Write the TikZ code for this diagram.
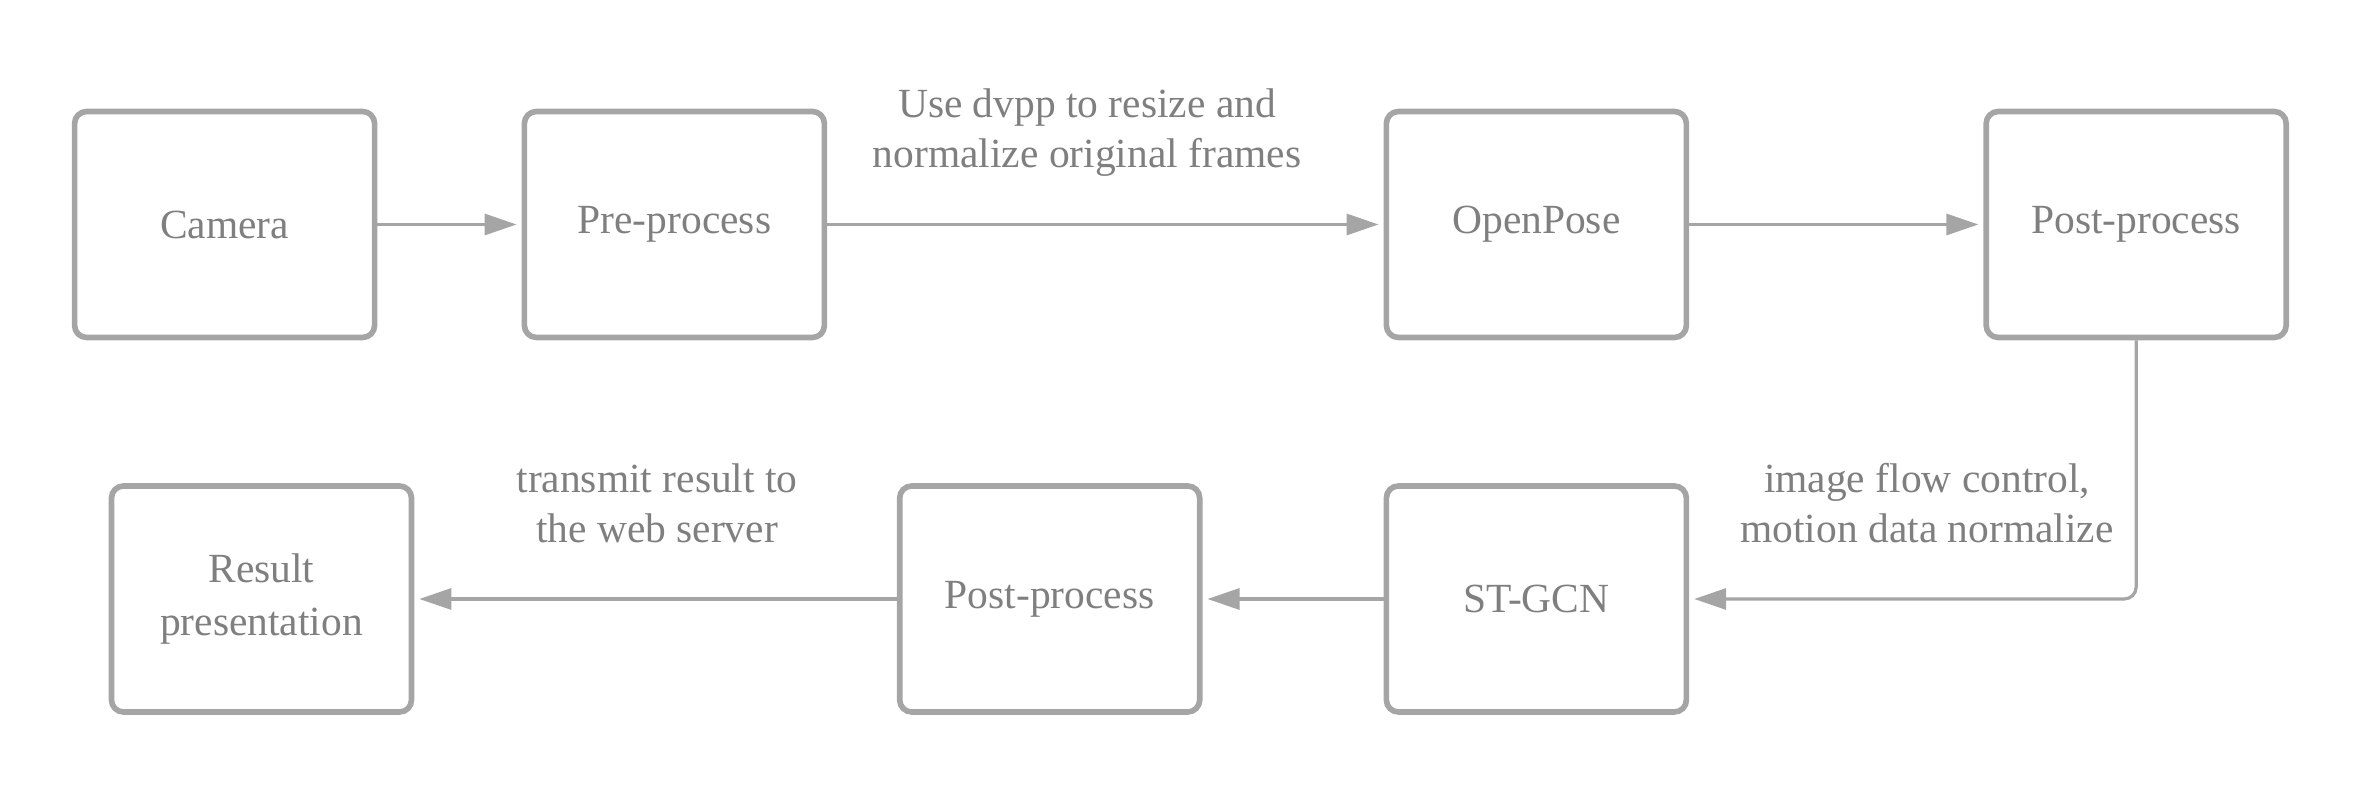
\documentclass[tikz,border=0pt]{standalone}
\usepackage{fontspec}
\setmainfont{Liberation Serif}
\usetikzlibrary{arrows.meta}
\definecolor{linegray}{HTML}{A5A5A5}
\definecolor{textgray}{HTML}{7F7F7F}
\tikzset{
  stepbox/.style={draw=linegray, line width=1.6pt, rounded corners=0.12cm,
    minimum width=3.0cm, minimum height=2.26cm, text=textgray,
    align=center, font=\fontsize{11.8}{15}\selectfont},
  note/.style={text=textgray, align=center, font=\fontsize{11.8}{14.2}\selectfont},
  flow/.style={draw=linegray, line width=0.9pt,
    -{Triangle[length=0.32cm,width=0.21cm]}, shorten >=0.05cm}
}
\begin{document}
\begin{tikzpicture}
\useasboundingbox (0,0) rectangle (23.63,7.88);

\node[stepbox] (camera) at (2.246,5.635) {Camera};
\node[stepbox] (pre) at (6.744,5.635) {Pre-process};
\node[stepbox] (openpose) at (15.364,5.635) {OpenPose};
\node[stepbox] (post1) at (21.362,5.635) {Post-process};

\node[stepbox] (result) at (2.615,1.89) {Result\\presentation};
\node[stepbox] (post2) at (10.497,1.89) {Post-process};
\node[stepbox] (stgcn) at (15.364,1.89) {ST-GCN};

\node[note] (resize) at (10.87,6.55) {Use dvpp to resize and\\normalize original frames};
\node[note] (transmit) at (6.57,2.85) {transmit result to\\the web server};
\node[note] (flowctl) at (19.27,2.85) {image flow control,\\motion data normalize};

\draw[flow] (camera) -- (pre);
\draw[flow] (pre) -- (openpose);
\draw[flow] (openpose) -- (post1);
\draw[flow, rounded corners=0.12cm] (post1.south) |- (stgcn.east);
\draw[flow] (stgcn) -- (post2);
\draw[flow] (post2) -- (result);
\end{tikzpicture}
\end{document}
